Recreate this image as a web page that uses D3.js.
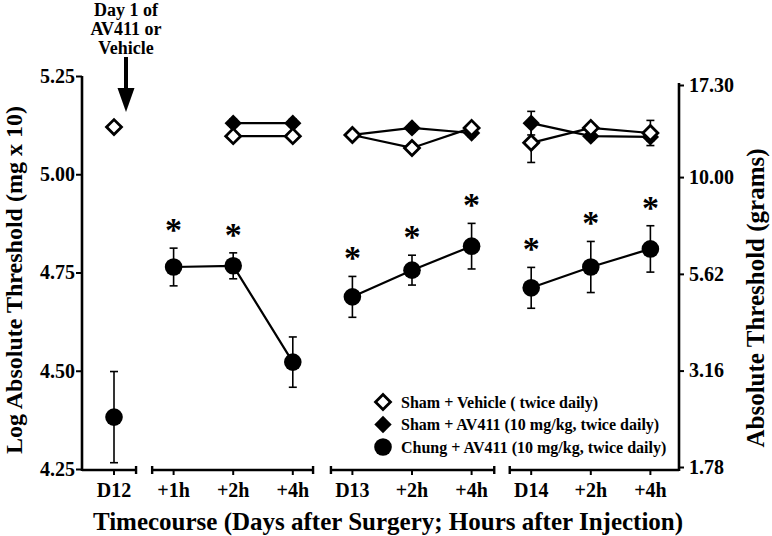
<!DOCTYPE html>
<html><head><meta charset="utf-8">
<script src="https://cdn.jsdelivr.net/npm/d3@7"></script>
<style>
html,body{margin:0;padding:0;background:#fff;}
svg{display:block;}
text{font-family:"Liberation Serif","Times New Roman",serif;font-weight:bold;fill:#000;}
</style></head>
<body>
<svg id="chart" width="772" height="536"></svg>
<script>
// ---- data ----
const categories = ["D12","+1h","+2h","+4h","D13","+2h","+4h","D14","+2h","+4h"];
const segmentOf  = [0,1,1,1,2,2,2,3,3,3];
const shamVehicle    = [5.120, null, 5.097, 5.097, 5.100, 5.067, 5.118, 5.080, 5.118, 5.105];
const shamVehicleErr = [0.010, null, 0.010, 0.010, 0.010, 0.010, 0.010, 0.050, 0.010, 0.032];
const shamAV411      = [null, null, 5.130, 5.130, 5.100, 5.118, 5.105, 5.130, 5.097, 5.095];
const shamAV411Err   = [null, null, 0.010, 0.010, 0.010, 0.010, 0.010, 0.030, 0.010, 0.010];
const chungAV411     = [4.382, 4.764, 4.767, 4.522, 4.688, 4.756, 4.817, 4.711, 4.764, 4.810];
const chungAV411Err  = [0.116, 0.048, 0.033, 0.064, 0.052, 0.038, 0.058, 0.052, 0.065, 0.059];
const chungSig       = [false, true, true, false, true, true, true, true, true, true];
const leftTicks  = [4.25, 4.50, 4.75, 5.00, 5.25];
const rightTicks = [1.78, 3.16, 5.62, 10.00, 17.30];
const legendLabels = ["Sham + Vehicle ( twice daily)",
                      "Sham + AV411 (10 mg/kg, twice daily)",
                      "Chung + AV411 (10 mg/kg, twice daily)"];
// axis break segments, in category-index units
const axisSegments = [[-0.537, 0.37], [0.64, 3.34], [3.64, 6.38], [6.64, 9.48]];

// ---- layout ----
const svg = d3.select("#chart");
const x = d3.scaleLinear().domain([-0.537, 9.48]).range([82, 679]);
const y = d3.scaleLinear().domain([4.25, 5.25]).range([469, 76]);
const yR = d3.scaleLog().domain([1.78, 17.30]).range([467, 85]);
const axisY = 470;

// left axis
const gL = svg.append("g").attr("transform","translate(82,0)")
  .call(d3.axisLeft(y).tickValues(leftTicks).tickFormat(d3.format(".2f")).tickSize(6).tickSizeOuter(0));
gL.select(".domain").remove();
gL.selectAll(".tick line").attr("stroke","#000").attr("stroke-width",2);
gL.selectAll(".tick text").attr("x",-7).style("font-size","20px").attr("font-family",null);
svg.append("line").attr("x1",82).attr("x2",82).attr("y1",76).attr("y2",axisY+1)
  .attr("stroke","#000").attr("stroke-width",2.6);

// right axis
const gR = svg.append("g").attr("transform","translate(679,0)")
  .call(d3.axisRight(yR).tickValues(rightTicks).tickFormat(d3.format(".2f")).tickSize(5).tickSizeOuter(0));
gR.select(".domain").remove();
gR.selectAll(".tick line").attr("stroke","#000").attr("stroke-width",2);
gR.selectAll(".tick text").attr("x",10).style("font-size","20px").attr("font-family",null);
svg.append("line").attr("x1",679).attr("x2",679).attr("y1",83).attr("y2",axisY+1)
  .attr("stroke","#000").attr("stroke-width",2.6);

// broken x axis
const gX = svg.append("g");
axisSegments.forEach(s => {
  gX.append("line").attr("x1",x(s[0])).attr("x2",x(s[1])).attr("y1",axisY).attr("y2",axisY)
    .attr("stroke","#000").attr("stroke-width",2.6);
  [s[0], s[1]].forEach(e => {
    if (e === axisSegments[0][0] || e === axisSegments[3][1]) return;
    gX.append("line").attr("x1",x(e)).attr("x2",x(e)).attr("y1",axisY-4).attr("y2",axisY+4)
      .attr("stroke","#000").attr("stroke-width",2.4);
  });
});
categories.forEach((c,i) => {
  gX.append("line").attr("x1",x(i)).attr("x2",x(i)).attr("y1",axisY).attr("y2",axisY+5)
    .attr("stroke","#000").attr("stroke-width",2);
  gX.append("text").attr("x",x(i)).attr("y",497).attr("text-anchor","middle")
    .style("font-size","20px").text(c);
});

// axis titles
svg.append("text").attr("x",388).attr("y",530).attr("text-anchor","middle")
  .style("font-size","25px").text("Timecourse (Days after Surgery; Hours after Injection)");
svg.append("text").attr("transform","translate(22,280) rotate(-90)").attr("text-anchor","middle")
  .style("font-size","24px").text("Log Absolute Threshold (mg x 10)");
svg.append("text").attr("transform","translate(764,298) rotate(-90)").attr("text-anchor","middle")
  .style("font-size","25px").text("Absolute Threshold (grams)");

// annotation arrow
const ax = x(0) + 12;
const ann = ["Day 1 of","AV411 or","Vehicle"];
ann.forEach((t,i) => svg.append("text").attr("x",ax).attr("y",16 + i*19)
  .attr("text-anchor","middle").style("font-size","18px").text(t));
svg.append("line").attr("x1",ax).attr("x2",ax).attr("y1",57).attr("y2",90)
  .attr("stroke","#000").attr("stroke-width",4);
svg.append("path").attr("d",`M${ax-8.5},88L${ax+8.5},88L${ax},112Z`).attr("fill","#000");

// series helpers
const series = [
  {vals: shamAV411, err: shamAV411Err, kind: "filledDiamond"},
  {vals: shamVehicle, err: shamVehicleErr, kind: "openDiamond"},
  {vals: chungAV411, err: chungAV411Err, kind: "circle"}
];
const gErr = svg.append("g"), gLine = svg.append("g"), gMark = svg.append("g");
const line = d3.line().defined(d => d.v != null).x(d => x(d.i)).y(d => y(d.v));
const openD = d3.symbol(d3.symbolSquare, 112);
const fillD = d3.symbol(d3.symbolSquare, 150);

function drawMarker(g, kind, cx, cy) {
  if (kind === "circle") {
    g.append("circle").attr("cx",cx).attr("cy",cy).attr("r",8.8).attr("fill","#000");
  } else if (kind === "filledDiamond") {
    g.append("path").attr("d",fillD()).attr("transform",`translate(${cx},${cy}) rotate(45)`)
      .attr("fill","#000");
  } else {
    g.append("path").attr("d",openD()).attr("transform",`translate(${cx},${cy}) rotate(45)`)
      .attr("fill","#fff").attr("stroke","#000").attr("stroke-width",2.8);
  }
}

series.forEach(s => {
  const pts = s.vals.map((v,i) => ({v, i, e: s.err[i], seg: segmentOf[i]}));
  pts.filter(p => p.v != null && p.e != null).forEach(p => {
    const cx = x(p.i), y1 = y(p.v + p.e), y2 = y(p.v - p.e);
    gErr.append("line").attr("x1",cx).attr("x2",cx).attr("y1",y1).attr("y2",y2)
      .attr("stroke","#000").attr("stroke-width",1.6);
    [y1,y2].forEach(yy => gErr.append("line").attr("x1",cx-4).attr("x2",cx+4)
      .attr("y1",yy).attr("y2",yy).attr("stroke","#000").attr("stroke-width",1.6));
  });
  d3.groups(pts, p => p.seg).forEach(([k, arr]) => {
    const a = arr.filter(p => p.v != null);
    if (a.length > 1) gLine.append("path").attr("d", line(a))
      .attr("fill","none").attr("stroke","#000").attr("stroke-width",2.2);
  });
  pts.filter(p => p.v != null).forEach(p => drawMarker(gMark, s.kind, x(p.i), y(p.v)));
});

// significance asterisks
chungAV411.forEach((v,i) => {
  if (!chungSig[i]) return;
  const top = y(v + chungAV411Err[i]);
  svg.append("text").attr("x",x(i)).attr("y",top - 7).attr("text-anchor","middle")
    .style("font-size","34px").text("*");
});

// legend
const legKinds = ["openDiamond","filledDiamond","circle"];
const gLeg = svg.append("g");
legendLabels.forEach((t,k) => {
  const ly = 402 + k*22.5;
  drawMarker(gLeg, legKinds[k], 383, ly);
  gLeg.append("text").attr("x",401).attr("y",ly).attr("dominant-baseline","central")
    .style("font-size","16px").text(t);
});
</script>
</body></html>
